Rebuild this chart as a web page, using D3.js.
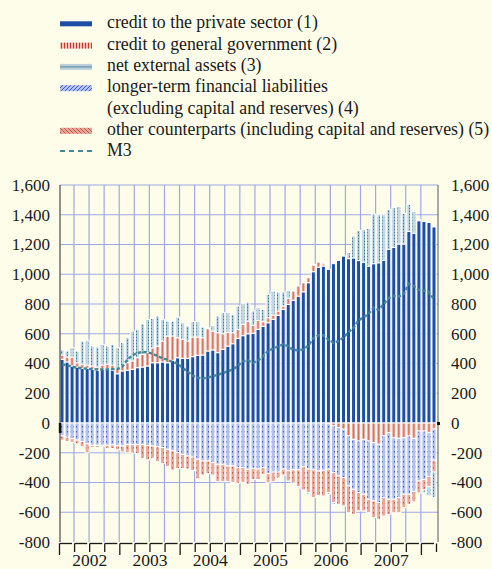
<!DOCTYPE html>
<html>
<head>
<meta charset="utf-8">
<script src="https://cdn.jsdelivr.net/npm/d3@7"></script>
<style>
body { margin: 0; background: #fefde9; }
svg { display: block; }
</style>
</head>
<body>
<div id="chart"></div>
<script>
// monthly, Jan 2002 - Mar 2008
var months = d3.range(75).map(function(i) {
    return (2002 + Math.floor(i / 12)) + "-" + (i % 12 + 1);
});
var yearLabels = ["2002", "2003", "2004", "2005", "2006", "2007"];
var yTicks = [-800, -600, -400, -200, 0, 200, 400, 600, 800, 1000, 1200, 1400, 1600];

var legendLabels = [
    "credit to the private sector (1)",
    "credit to general government (2)",
    "net external assets (3)",
    "longer-term financial liabilities",
    "(excluding capital and reserves) (4)",
    "other counterparts (including capital and reserves) (5)",
    "M3"
];

// annual flows, EUR billions
var privateSector = [428,410,383,376,367,368,361,354,361,361,354,331,
    350,354,361,372,376,383,405,405,410,405,421,439,
    435,435,446,455,457,484,491,473,495,517,533,569,
    587,600,603,630,650,674,697,724,764,797,825,853,
    882,943,1017,1048,1055,1033,1071,1093,1122,1105,1110,1092,
    1080,1055,1071,1077,1095,1167,1180,1203,1203,1288,1276,1360,
    1355,1348,1318];
var generalGov = [29,34,60,29,27,22,22,22,29,34,36,36,
    34,52,56,67,85,90,100,112,141,179,164,134,
    128,116,132,123,116,150,127,134,105,94,74,61,
    76,85,53,60,31,34,29,29,22,41,62,68,
    61,34,45,34,15,-5,-20,-31,-42,-87,-110,-121,
    -110,-121,-132,-143,-87,-65,-99,-103,-99,-87,-103,-54,
    -54,-65,-40];
var netExternal = [34,40,63,79,157,166,134,135,139,122,139,139,
    156,167,201,191,206,224,198,202,146,101,100,139,
    111,101,103,103,72,5,38,112,141,130,123,156,
    139,128,97,85,83,157,161,127,94,54,-5,-8,
    0,-10,5,-5,10,-10,-12,-8,0,40,147,203,
    220,253,334,323,305,269,267,253,207,182,146,8,
    -20,-60,-170];
var longerTerm = [-87,-95,-105,-115,-125,-140,-150,-150,-150,-150,-148,-152,
    -155,-145,-145,-145,-145,-152,-155,-160,-166,-177,-188,-200,
    -211,-222,-229,-244,-255,-255,-267,-278,-278,-289,-289,-300,
    -300,-311,-305,-310,-300,-340,-330,-330,-310,-320,-315,-315,
    -295,-310,-315,-323,-318,-306,-314,-325,-325,-336,-336,-347,
    -369,-392,-392,-392,-415,-448,-414,-399,-380,-392,-357,-336,
    -326,-295,-210];
var otherCp = [-28,-30,-25,-25,-35,-60,-15,-15,-10,-20,-24,-28,
    -40,-55,-57,-60,-92,-96,-82,-100,-105,-117,-129,-106,
    -95,-88,-91,-131,-95,-85,-83,-117,-117,-106,-111,-105,
    -100,-101,-75,-70,-45,-61,-65,-40,-40,-70,-90,-115,
    -155,-158,-187,-167,-173,-157,-201,-191,-191,-180,-168,-123,
    -112,-90,-112,-112,-123,-101,-90,-101,-90,-68,-70,-80,
    -70,-70,-80];
var m3 = [394,388,378,372,368,365,362,360,360,360,362,362,
    380,425,455,470,478,475,465,450,435,425,410,400,
    370,345,318,305,300,305,315,325,335,348,360,385,
    415,420,405,420,450,484,500,515,529,515,492,488,
    495,520,570,590,590,560,540,550,575,610,640,690,
    710,735,775,760,800,840,855,850,870,935,920,895,
    890,880,830];

var width = 492, height = 569;
var plotLeft = 60, plotRight = 438;
var serif = "'Liberation Serif', 'Times New Roman', 'DejaVu Serif', serif";

var svg = d3.select("#chart").append("svg")
    .attr("width", width)
    .attr("height", height)
    .attr("font-family", serif);

svg.append("rect").attr("width", width).attr("height", height).attr("fill", "#fefde9");

// patterns
var defs = svg.append("defs");
var pGov = defs.append("pattern").attr("id", "govLeg")
    .attr("patternUnits", "userSpaceOnUse").attr("width", 3).attr("height", 4);
pGov.append("rect").attr("width", 3).attr("height", 4).attr("fill", "#f2c3b8");
pGov.append("rect").attr("x", 1).attr("width", 1).attr("height", 4).attr("fill", "#c0392f");

var pNea = defs.append("pattern").attr("id", "nea")
    .attr("patternUnits", "userSpaceOnUse").attr("width", 3).attr("height", 3);
pNea.append("rect").attr("width", 3).attr("height", 3).attr("fill", "#c3d7e0");
pNea.append("rect").attr("x", 1).attr("width", 1).attr("height", 3).attr("fill", "#8fb5c4");
pNea.append("rect").attr("x", 1).attr("y", 1).attr("width", 1).attr("height", 1).attr("fill", "#3f7b8f");

var pLt = defs.append("pattern").attr("id", "ltfl")
    .attr("patternUnits", "userSpaceOnUse").attr("width", 3).attr("height", 5);
pLt.append("rect").attr("width", 3).attr("height", 5).attr("fill", "#b1beee");
pLt.append("rect").attr("x", 1).attr("y", 1).attr("width", 1).attr("height", 1.5).attr("fill", "#3a58c4");

var pLtLeg = defs.append("pattern").attr("id", "ltflLeg")
    .attr("patternUnits", "userSpaceOnUse").attr("width", 4).attr("height", 4);
pLtLeg.append("rect").attr("width", 4).attr("height", 4).attr("fill", "#b4c1ee");
pLtLeg.append("path").attr("d", "M0,4 L4,0").attr("stroke", "#3f5cc4").attr("stroke-width", 1);

var pOt = defs.append("pattern").attr("id", "other")
    .attr("patternUnits", "userSpaceOnUse").attr("width", 3).attr("height", 5);
pOt.append("rect").attr("width", 3).attr("height", 5).attr("fill", "#e8a797");
pOt.append("rect").attr("x", 1).attr("y", 2).attr("width", 1).attr("height", 1.5).attr("fill", "#c25644");

var pOtLeg = defs.append("pattern").attr("id", "otherLeg")
    .attr("patternUnits", "userSpaceOnUse").attr("width", 4).attr("height", 4);
pOtLeg.append("rect").attr("width", 4).attr("height", 4).attr("fill", "#e6a596");
pOtLeg.append("path").attr("d", "M0,0 L4,4").attr("stroke", "#c05a48").attr("stroke-width", 1);

// scales
var x = d3.scaleBand()
    .domain(months)
    .range([59.5, 436.5])
    .paddingInner(0.2)
    .paddingOuter(0.1);
var y = d3.scaleLinear().domain([-800, 1600]).range([542, 185]);

function boundary(i) { return x.range()[0] + i * x.step(); }
function center(i) { return x(months[i]) + x.bandwidth() / 2; }

// grid
var grid = svg.append("g");
grid.selectAll(".hg")
    .data(yTicks.filter(function(v) { return v > -800; }))
    .enter().append("line")
    .attr("x1", plotLeft).attr("x2", plotRight)
    .attr("y1", function(d) { return y(d); })
    .attr("y2", function(d) { return y(d); })
    .attr("stroke", "#9ea8e6").attr("stroke-width", 1.2);
grid.selectAll(".vg")
    .data(d3.range(1, 25))
    .enter().append("line")
    .attr("x1", function(q) { return boundary(q * 3) - 0.6; })
    .attr("x2", function(q) { return boundary(q * 3) - 0.6; })
    .attr("y1", y(1600)).attr("y2", y(-800))
    .attr("stroke", "#9ea8e6").attr("stroke-width", 1.2);

// stacked bars
var rows = months.map(function(m, i) {
    return {month: m, priv: privateSector[i], gov: generalGov[i], ltfl: longerTerm[i],
        other: otherCp[i], nea: netExternal[i]};
});
var keys = ["priv", "gov", "ltfl", "other", "nea"];
var fills = {priv: "#1c4ea6", gov: "#eaa898", ltfl: "url(#ltfl)", other: "url(#other)", nea: "url(#nea)"};
var series = d3.stack().keys(keys).offset(d3.stackOffsetDiverging)(rows);

var barGroup = svg.append("g");
series.forEach(function(s) {
    barGroup.append("g").selectAll("rect")
        .data(s.filter(function(d) { return d[1] - d[0] !== 0; }))
        .enter().append("rect")
        .attr("x", function(d) { return x(d.data.month); })
        .attr("width", x.bandwidth())
        .attr("y", function(d) { return y(Math.max(d[0], d[1])); })
        .attr("height", function(d) { return Math.abs(y(d[0]) - y(d[1])); })
        .attr("fill", fills[s.key])
        .attr("stroke", "#ffffff")
        .attr("stroke-width", 1.0);
});
// red centre line on government bars
barGroup.append("g").selectAll("rect")
    .data(series[1].filter(function(d) { return d[1] - d[0] !== 0; }))
    .enter().append("rect")
    .attr("x", function(d) { return x(d.data.month) + x.bandwidth() / 2 - 0.4; })
    .attr("width", 0.8)
    .attr("y", function(d) { return y(Math.max(d[0], d[1])) + 0.8; })
    .attr("height", function(d) { return Math.max(0, Math.abs(y(d[0]) - y(d[1])) - 1.6); })
    .attr("fill", "#c04a3c")
    .attr("opacity", 0.75);

// M3 line
var line = d3.line()
    .x(function(d, i) { return center(i); })
    .y(function(d) { return y(d); });
svg.append("path")
    .datum(m3)
    .attr("d", line)
    .attr("fill", "none")
    .attr("stroke", "#428797")
    .attr("stroke-width", 2.4)
    .attr("stroke-dasharray", "3.5,2");

// axis lines
svg.append("line").attr("x1", plotLeft).attr("x2", plotLeft)
    .attr("y1", y(1600)).attr("y2", y(-800))
    .attr("stroke", "#555").attr("stroke-width", 1.3);
svg.append("line").attr("x1", plotRight).attr("x2", plotRight)
    .attr("y1", y(1600)).attr("y2", y(-800))
    .attr("stroke", "#666").attr("stroke-width", 1.1);
svg.append("rect").attr("x", 58.8).attr("y", y(0)).attr("width", 2.5).attr("height", 10).attr("fill", "#111");
svg.append("rect").attr("x", 437).attr("y", y(0) - 1).attr("width", 3).attr("height", 3).attr("fill", "#111");

// y labels both sides
var locale = d3.formatLocale({decimal: ".", thousands: ",", grouping: [3], currency: ["", ""], minus: "-"});
var fmt = locale.format(",");
svg.append("g").selectAll("text")
    .data(yTicks).enter().append("text")
    .attr("x", 50).attr("y", function(d) { return y(d); })
    .attr("dy", "0.35em")
    .attr("text-anchor", "end")
    .attr("font-family", serif)
    .attr("font-size", 17).attr("fill", "#1a1a1a")
    .text(function(d) { return fmt(d); });
svg.append("g").selectAll("text")
    .data(yTicks).enter().append("text")
    .attr("x", 451).attr("y", function(d) { return y(d); })
    .attr("dy", "0.35em")
    .attr("text-anchor", "start")
    .attr("font-family", serif)
    .attr("font-size", 17).attr("fill", "#1a1a1a")
    .text(function(d) { return fmt(d); });

// bottom quarter ticks
var axisY = 543.5;
var xAxisG = svg.append("g").attr("stroke", "#1a1a1a").attr("stroke-width", 1.3);
d3.range(25).forEach(function(q) {
    var bx = boundary(q * 3);
    xAxisG.append("line").attr("x1", bx).attr("x2", bx)
        .attr("y1", axisY).attr("y2", q % 4 === 0 ? 555 : 552);
    xAxisG.append("line").attr("x1", bx).attr("x2", boundary(q * 3 + 3) - 2.5)
        .attr("y1", axisY).attr("y2", axisY);
});
xAxisG.append("line").attr("x1", boundary(75)).attr("x2", boundary(75))
    .attr("y1", axisY).attr("y2", 552);

svg.append("g").selectAll("text")
    .data(yearLabels).enter().append("text")
    .attr("x", function(d, i) { return boundary(i * 12 + 6); })
    .attr("y", 566)
    .attr("text-anchor", "middle")
    .attr("font-family", serif)
    .attr("font-size", 17.5).attr("fill", "#1a1a1a")
    .text(function(d) { return d; });

// legend
function rowY(i) { return 28.3 + i * 21.3; }
var legend = svg.append("g");
legendLabels.forEach(function(label, i) {
    legend.append("text")
        .attr("x", 107).attr("y", rowY(i))
        .attr("font-family", serif)
        .attr("font-size", 17.8).attr("fill", "#1a1a1a")
        .text(label);
});
legend.append("rect").attr("x", 60).attr("y", rowY(0) - 7).attr("width", 32).attr("height", 5).attr("fill", "#1c4ea6");
legend.append("rect").attr("x", 60).attr("y", rowY(1) - 7).attr("width", 32).attr("height", 6).attr("fill", "url(#govLeg)");
legend.append("rect").attr("x", 60).attr("y", rowY(2) - 7).attr("width", 32).attr("height", 6).attr("fill", "#bcd0dc");
legend.append("line").attr("x1", 60).attr("x2", 92).attr("y1", rowY(2) - 4).attr("y2", rowY(2) - 4)
    .attr("stroke", "#4f8598").attr("stroke-width", 1);
legend.append("rect").attr("x", 60).attr("y", rowY(3) - 7).attr("width", 32).attr("height", 6).attr("fill", "url(#ltflLeg)");
legend.append("rect").attr("x", 60).attr("y", rowY(5) - 7).attr("width", 32).attr("height", 6).attr("fill", "url(#otherLeg)");
legend.append("line").attr("x1", 60).attr("x2", 92).attr("y1", rowY(6) - 5).attr("y2", rowY(6) - 5)
    .attr("stroke", "#428797").attr("stroke-width", 2).attr("stroke-dasharray", "5,4");
</script>
</body>
</html>
